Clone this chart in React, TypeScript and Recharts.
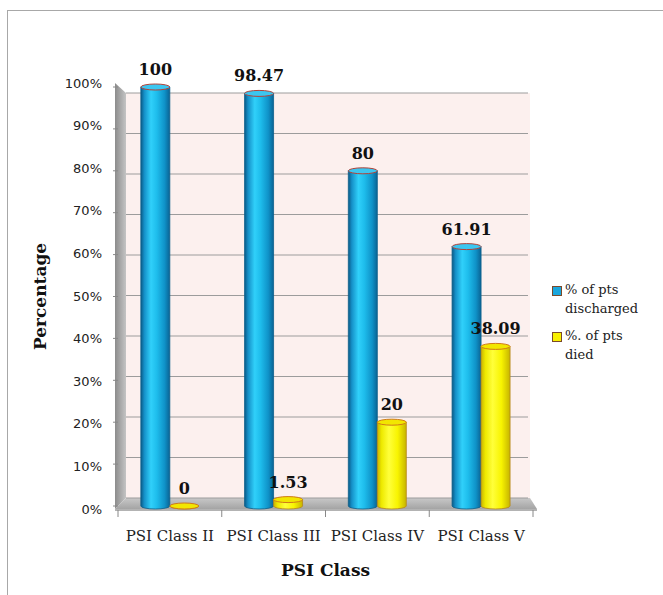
import React from 'react';
import {
  BarChart,
  Bar,
  XAxis,
  YAxis,
  CartesianGrid,
  ReferenceArea,
  LabelList,
  Legend,
  Label,
} from 'recharts';

const categories = ['PSI Class II', 'PSI Class III', 'PSI Class IV', 'PSI Class V'];
const dischargedPct = [100, 98.47, 80, 61.91];
const diedPct = [0, 1.53, 20, 38.09];
const yTicks = [0, 10, 20, 30, 40, 50, 60, 70, 80, 90, 100];
const seriesNames = ['% of pts discharged', '%. of pts died'];

const data = categories.map((name, i) => ({
  name,
  discharged: dischargedPct[i],
  died: diedPct[i],
}));

// plot box (pixels) and the recessed back wall of the pseudo-3D frame
const PLOT_TOP = 87;
const PLOT_BOTTOM = 506;
const WALL_TOP = 93;
const WALL_BOTTOM = 498;
const SERIF = '"DejaVu Serif", serif';

const toWallY = (y: number) =>
  WALL_BOTTOM - ((PLOT_BOTTOM - y) * (WALL_BOTTOM - WALL_TOP)) / (PLOT_BOTTOM - PLOT_TOP);

const Frame = (props: any) => {
  const { x, y, width, height } = props;
  const b = y + height;
  const r = x + width;
  return (
    <g>
      <polygon points={`${x + 8},${y + 6} ${r - 3},${y + 6} ${r - 3},${b - 8} ${x + 8},${b - 8}`} fill="#fcf0ee" />
      <polygon points={`${x - 3},${y - 4} ${x + 8},${y + 6} ${x + 8},${b - 8} ${x - 3},${b + 3}`} fill="url(#sideWall)" />
      <polygon points={`${x - 3},${b + 3} ${x + 8},${b - 8} ${r - 3},${b - 8} ${r + 4},${b + 3}`} fill="url(#floor)" />
      <line x1={x - 3} y1={b + 4} x2={r + 4} y2={b + 4} stroke="#9a9a9a" strokeWidth={1.5} />
    </g>
  );
};

const makeCylinder = (grad: string, cap: string, rim: string, edge: string) => (props: any) => {
  const { x, y, width, height } = props;
  const rx = width / 2;
  const ry = 3;
  const cx = x + rx;
  const b = y + height;
  return (
    <g>
      <path
        d={`M${x},${y} L${x},${b} A${rx},${ry} 0 0 0 ${x + width},${b} L${x + width},${y} Z`}
        fill={`url(#${grad})`}
        stroke={edge}
        strokeWidth={0.8}
      />
      <ellipse cx={cx} cy={y} rx={rx} ry={ry} fill={cap} stroke={rim} strokeWidth={1} />
    </g>
  );
};

const BlueCylinder = makeCylinder('blueBody', '#3cc6f0', '#b0433a', '#0b5f8c');
const YellowCylinder = makeCylinder('yellowBody', '#f2e600', '#d07a18', '#b8861a');

const ValueLabel = (props: any) => {
  const { x, y, width, value } = props;
  return (
    <text
      x={x + width / 2}
      y={y - 12}
      textAnchor="middle"
      fontFamily={SERIF}
      fontWeight="bold"
      fontSize={16}
      fill="#111"
    >
      {value}
    </text>
  );
};

const YTick = (props: any) => {
  const { x, y, payload } = props;
  // labels sit on the front edge of the frame, slightly off the wall lines
  const ly = y + 3 - payload.value * 0.07;
  return (
    <text x={x} y={ly} dy="0.35em" textAnchor="end" fontFamily='"DejaVu Sans", sans-serif' fontSize={13} fill="#222">
      {`${payload.value}%`}
    </text>
  );
};

const XTick = (props: any) => {
  const { x, y, payload, index, visibleTicksCount } = props;
  const half = payload.offset ?? 52;
  const last = index === visibleTicksCount - 1;
  return (
    <g>
      <line x1={x - half} y1={y + 4} x2={x - half} y2={y + 11} stroke="#888" />
      {last && <line x1={x + half} y1={y + 4} x2={x + half} y2={y + 11} stroke="#888" />}
      <text x={x} y={y + 35} textAnchor="middle" fontFamily={SERIF} fontSize={15} fill="#222">
        {payload.value}
      </text>
    </g>
  );
};

const GridLine = (props: any) => {
  const { x1, x2, y1 } = props;
  const wy = toWallY(y1);
  return <line x1={x1 + 8} y1={wy} x2={x2 - 5} y2={wy} stroke="#9c9c9c" strokeWidth={1} />;
};

const LegendBox = (props: any) => {
  const { payload } = props;
  const colors = ['#1aa6dc', '#f8f000'];
  return (
    <div style={{ fontFamily: SERIF, fontSize: 13, color: '#222', lineHeight: '19px' }}>
      {(payload || []).map((p: any, i: number) => (
        <div key={i} style={{ display: 'flex', alignItems: 'flex-start', marginBottom: 8 }}>
          <span
            style={{
              width: 8,
              height: 8,
              marginTop: 6,
              marginRight: 3,
              flex: 'none',
              background: colors[i],
              border: '1px solid #7a4a2a',
            }}
          />
          <span style={{ width: 86, fontFamily: SERIF }}>{p.value}</span>
        </div>
      ))}
    </div>
  );
};

export default function App() {
  return (
    <div style={{ position: 'absolute', left: 0, top: 0, width: 663, height: 595, overflow: 'hidden', background: '#fff' }}>
      <div style={{ position: 'absolute', left: 7, top: 10, width: 680, height: 620, border: '1px solid #a8a8a8' }} />
      <div style={{ position: 'absolute', left: 0, top: 0 }}>
        <BarChart
          width={663}
          height={595}
          data={data}
          margin={{ top: PLOT_TOP, right: 130, bottom: 595 - PLOT_BOTTOM - 40, left: 58 }}
          barGap={0}
          barCategoryGap="22%"
        >
          <defs>
            <linearGradient id="blueBody" x1="0" y1="0" x2="1" y2="0">
              <stop offset="0" stopColor="#0a5a86" />
              <stop offset="0.12" stopColor="#1590c8" />
              <stop offset="0.35" stopColor="#30d0fa" />
              <stop offset="0.55" stopColor="#1ebdec" />
              <stop offset="0.82" stopColor="#0f92c8" />
              <stop offset="1" stopColor="#0a6394" />
            </linearGradient>
            <linearGradient id="yellowBody" x1="0" y1="0" x2="1" y2="0">
              <stop offset="0" stopColor="#c8b400" />
              <stop offset="0.15" stopColor="#eeea00" />
              <stop offset="0.4" stopColor="#ffff3a" />
              <stop offset="0.7" stopColor="#f8f400" />
              <stop offset="1" stopColor="#c6b400" />
            </linearGradient>
            <linearGradient id="sideWall" x1="0" y1="0" x2="1" y2="0">
              <stop offset="0" stopColor="#8c8c8c" />
              <stop offset="1" stopColor="#c4c4c4" />
            </linearGradient>
            <linearGradient id="floor" x1="0" y1="0" x2="0" y2="1">
              <stop offset="0" stopColor="#c8c8c8" />
              <stop offset="1" stopColor="#a4a4a4" />
            </linearGradient>
          </defs>
          <ReferenceArea y1={0} y2={100} shape={<Frame />} zIndex={-150} ifOverflow="visible" />
          <CartesianGrid vertical={false} horizontal={(p: any) => <GridLine key={p.key} {...p} />} />
          <XAxis
            dataKey="name"
            height={40}
            axisLine={false}
            tickLine={false}
            tickSize={0}
            tickMargin={0}
            tick={<XTick />}
            interval={0}
          >
            <Label
              content={(p: any) => (
                <text
                  x={p.viewBox.x + p.viewBox.width / 2}
                  y={576}
                  textAnchor="middle"
                  fontFamily={SERIF}
                  fontWeight="bold"
                  fontSize={17}
                  fill="#111"
                >
                  PSI Class
                </text>
              )}
            />
          </XAxis>
          <YAxis
            width={60}
            domain={[0, 100]}
            ticks={yTicks}
            interval={0}
            axisLine={false}
            tickLine={{ stroke: '#888' }}
            tickSize={5}
            tickMargin={11}
            tick={<YTick />}
          >
            <Label
              content={(p: any) => {
                const cy = p.viewBox.y + p.viewBox.height / 2;
                return (
                  <text
                    x={46}
                    y={cy}
                    transform={`rotate(-90 46 ${cy})`}
                    textAnchor="middle"
                    fontFamily={SERIF}
                    fontWeight="bold"
                    fontSize={17}
                    fill="#111"
                  >
                    Percentage
                  </text>
                );
              }}
            />
          </YAxis>
          <Legend
            layout="vertical"
            align="center"
            verticalAlign="middle"
            content={<LegendBox />}
            wrapperStyle={{ left: 552, top: 280, width: 110 }}
          />
          <Bar dataKey="discharged" name={seriesNames[0]} fill="#1aa6dc" shape={BlueCylinder} isAnimationActive={false}>
            <LabelList dataKey="discharged" content={<ValueLabel />} />
          </Bar>
          <Bar dataKey="died" name={seriesNames[1]} fill="#f8f000" shape={YellowCylinder} isAnimationActive={false}>
            <LabelList dataKey="died" content={<ValueLabel />} />
          </Bar>
        </BarChart>
      </div>
    </div>
  );
}
